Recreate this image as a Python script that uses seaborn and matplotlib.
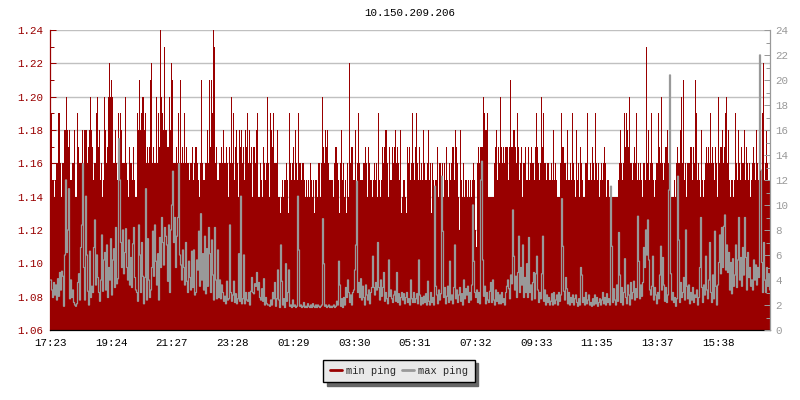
import matplotlib
matplotlib.use('Agg')
import matplotlib.pyplot as plt
from matplotlib.lines import Line2D
from matplotlib.ticker import MultipleLocator
import numpy as np
import pandas as pd
import seaborn as sns

RED = '#990000'
GREY = '#999999'

title = '10.150.209.206'
time_labels = ['17:23', '19:24', '21:27', '23:28', '01:29', '03:30',
               '05:31', '07:32', '09:33', '11:35', '13:37', '15:38']
time_samples = [0, 61, 121, 182, 243, 304, 364, 425, 486, 546, 607, 668]

min_ping_cs = [
    19,19,15,15,14,15,16,16,19,19,16,14,16,16,18,18,20,18,17,18,15,15,16,16,18,14,14,19,17,16,
    16,16,18,15,18,18,18,16,17,18,20,18,17,15,16,16,19,20,17,18,15,16,14,15,20,18,16,17,20,22,
    20,21,20,16,16,18,16,15,19,17,19,18,16,16,16,20,16,15,14,17,16,16,15,17,15,14,14,19,18,21,
    18,19,20,20,18,19,16,17,16,17,21,22,16,17,16,16,20,16,19,17,24,20,19,18,23,18,18,17,17,20,
    18,22,21,16,16,16,17,16,19,16,21,16,17,16,19,16,17,16,16,15,16,16,17,15,16,17,17,16,15,14,
    16,21,16,15,15,16,16,18,16,21,17,21,19,24,23,16,17,15,15,16,16,17,16,18,16,16,17,16,14,17,
    16,20,16,19,15,17,18,16,14,18,17,18,16,17,15,18,17,19,16,18,16,17,14,17,17,16,18,19,14,14,
    16,15,14,17,16,15,16,20,16,14,19,18,17,19,16,16,16,18,14,14,13,14,15,14,15,15,16,15,13,19,
    16,15,16,17,15,18,16,15,19,16,16,15,16,16,15,14,15,14,15,14,16,15,14,15,13,15,15,14,16,16,
    14,16,20,17,16,18,17,18,16,15,15,15,15,14,16,17,17,16,15,13,16,18,15,16,14,15,13,16,14,22,
    16,17,17,15,15,18,14,16,19,16,15,15,15,16,16,17,16,14,17,16,15,15,14,15,16,15,16,14,19,15,
    14,15,17,16,17,18,18,16,14,17,15,15,17,16,17,18,16,17,16,15,18,13,14,15,15,14,13,17,16,17,
    15,16,19,16,15,17,19,16,15,17,15,16,15,18,16,15,15,16,18,15,16,13,16,15,14,15,15,17,14,16,
    16,15,16,14,16,15,17,15,14,16,15,16,17,17,15,18,17,16,14,12,18,15,14,16,14,15,15,14,15,14,
    15,14,15,16,15,12,11,16,17,16,17,17,17,20,19,18,18,19,14,14,14,14,14,14,16,17,18,15,17,16,
    20,17,16,17,16,17,17,17,15,17,21,17,17,18,18,17,16,19,17,15,16,17,14,16,16,17,15,15,17,15,
    16,17,16,16,15,17,19,17,16,15,16,20,17,19,16,16,15,16,16,15,15,16,15,18,15,16,15,14,14,14,
    16,19,17,17,16,16,15,18,15,15,16,15,19,16,15,14,18,15,16,14,17,16,15,14,14,16,16,19,15,15,
    16,15,17,16,15,19,16,15,16,14,15,16,15,16,17,16,14,15,15,14,14,14,14,14,14,14,14,14,15,16,
    18,16,15,16,19,17,19,18,17,20,16,16,15,16,17,16,19,15,16,15,16,15,14,16,16,15,23,16,18,15,
    16,19,16,15,14,15,16,16,19,17,16,20,16,15,16,17,17,18,16,15,14,14,14,14,15,14,16,17,16,16,
    18,20,16,21,15,16,14,16,16,16,17,17,15,17,16,21,19,15,16,15,14,18,15,14,15,16,17,16,17,16,
    19,16,17,16,15,17,16,14,20,16,17,17,18,16,17,19,20,16,18,15,14,15,15,14,15,19,16,15,18,16,
    15,17,16,16,18,15,17,16,15,16,14,15,16,17,16,15,18,16,15,15,17,15,19,22,15,16,18,16,15,15,
]

max_ping = [
    4.0,3.2,2.6,3.8,2.8,3.6,2.4,4.1,2.7,4.6,3.2,4.7,4.3,1.9,6.0,12.0,6.2,8.0,11.3,2.5,4.0,2.6,3.2,2.2,2.0,1.9,2.1,3.8,4.5,2.4,
    6.6,8.4,13.3,5.0,2.4,10.7,6.0,3.1,2.0,6.3,2.6,3.5,3.0,6.6,8.8,3.6,6.0,4.2,3.0,2.3,4.0,7.6,3.1,5.6,6.2,3.2,6.8,2.6,5.0,4.0,
    7.3,2.8,5.6,6.5,3.4,8.2,3.7,4.1,15.3,12.0,7.0,5.0,8.0,4.5,6.2,8.1,5.0,4.0,7.2,3.6,5.8,3.4,6.9,8.2,4.2,3.2,3.0,2.3,8.4,6.0,
    3.0,7.0,4.3,2.1,4.2,11.3,2.4,7.3,4.0,2.6,3.2,5.0,7.9,4.3,8.4,5.5,3.6,6.1,2.4,7.4,5.0,9.0,7.0,5.2,8.2,7.5,6.8,3.9,8.4,3.0,
    8.0,10.0,12.7,7.0,9.0,5.0,7.5,9.0,13.3,6.0,5.2,4.0,6.4,5.0,3.6,7.0,3.9,3.0,5.5,4.2,3.2,6.3,3.4,6.4,2.8,3.0,5.6,4.8,7.9,3.5,
    9.3,4.0,6.1,3.2,7.5,2.9,6.5,3.5,8.2,6.1,3.0,7.2,4.4,2.4,8.2,4.0,2.5,6.4,2.6,4.0,2.5,3.6,3.0,2.3,2.7,2.1,3.9,2.4,2.5,8.4,
    3.0,2.3,2.8,3.9,2.2,2.9,2.1,2.5,6.1,2.3,10.7,2.1,2.5,6.0,2.1,3.0,2.4,2.3,3.0,2.0,3.1,4.2,3.0,2.9,3.7,3.5,4.6,3.2,3.8,2.6,
    2.4,3.3,2.3,4.1,2.0,2.6,2.1,2.0,2.0,1.9,2.4,2.0,3.0,2.5,3.8,1.9,2.5,4.8,2.4,1.8,6.8,3.9,2.0,2.5,1.8,5.3,2.3,3.0,4.8,1.9,
    2.0,1.8,2.4,1.9,2.0,1.8,1.9,10.7,6.4,1.9,2.0,1.8,1.9,2.2,1.8,1.9,1.8,2.1,1.9,1.8,2.0,1.8,2.1,1.9,1.8,2.0,1.8,2.0,1.9,1.8,
    1.9,2.0,8.9,5.3,1.9,2.0,1.8,1.9,2.0,1.8,1.9,1.8,1.9,2.0,1.8,1.9,2.3,2.0,5.5,3.6,1.9,2.5,1.8,2.6,2.0,3.4,2.6,4.0,3.0,2.2,
    2.8,2.0,3.0,3.2,4.8,6.8,11.9,3.0,3.8,2.6,4.1,2.4,3.5,2.6,2.0,3.6,2.8,2.4,3.2,2.1,3.0,3.4,5.9,3.4,2.8,3.8,3.2,7.0,3.4,2.4,
    4.0,2.7,3.4,4.6,2.3,3.0,2.5,2.1,5.6,2.7,3.2,2.5,2.2,2.8,3.1,2.3,4.6,2.2,2.9,2.0,2.6,3.0,2.4,2.9,2.1,2.6,3.0,2.2,2.5,2.0,
    4.0,2.5,2.2,3.0,2.2,2.5,2.9,2.1,5.6,2.8,2.0,2.6,2.1,2.7,2.2,2.9,2.0,3.9,2.3,2.0,3.0,2.2,2.6,2.0,11.5,3.5,2.8,2.1,3.2,2.4,
    2.9,12.3,7.9,2.6,3.4,2.1,2.7,3.5,2.2,5.5,2.4,2.8,2.1,3.4,6.8,2.5,3.2,2.2,2.8,3.4,2.3,2.9,2.0,4.0,2.5,3.3,2.8,3.5,2.2,3.0,
    2.4,3.6,10.0,5.5,3.0,2.6,3.2,2.2,3.0,2.1,12.0,13.5,5.6,2.7,3.5,2.1,3.0,2.4,2.2,3.1,3.8,2.2,4.0,2.4,2.0,3.2,2.3,3.0,2.1,2.8,
    2.1,3.0,2.2,2.5,2.0,3.0,3.5,4.0,3.3,2.5,4.4,3.7,9.6,5.9,3.2,4.3,2.6,4.6,7.5,3.0,5.0,3.6,6.8,2.6,4.2,3.0,5.3,2.6,7.4,3.0,
    3.6,2.4,3.8,4.6,2.5,4.5,5.9,3.2,2.2,3.0,2.5,4.5,7.5,2.3,3.2,2.0,2.8,2.2,2.6,2.0,2.3,2.9,2.0,3.0,2.1,2.4,2.8,2.0,3.0,2.3,
    2.8,10.5,6.7,3.1,2.4,4.2,3.3,2.1,3.0,2.0,2.6,2.2,2.8,2.0,2.5,2.8,2.2,1.9,2.5,2.0,5.0,4.4,2.2,2.6,2.0,3.0,2.1,2.4,2.8,2.0,
    2.2,1.9,2.5,2.0,2.8,2.1,2.6,1.9,2.2,2.5,2.0,2.4,3.0,2.1,2.6,2.0,2.9,2.2,2.5,2.0,11.5,6.7,2.2,3.3,2.4,2.0,3.6,2.3,7.8,4.4,
    2.2,3.4,2.0,3.0,5.7,2.6,2.1,3.6,2.8,2.0,3.8,2.5,3.0,3.9,2.4,3.3,2.6,9.1,5.5,2.5,3.6,2.7,3.8,6.6,5.0,8.0,6.0,8.8,5.6,3.2,
    2.8,3.5,5.9,2.4,3.4,2.8,2.1,3.0,2.5,4.4,6.7,3.2,5.8,3.6,2.3,3.4,2.2,2.8,11.2,20.4,4.5,2.4,3.0,2.2,2.6,1.9,2.5,12.3,7.2,2.2,
    3.8,2.6,3.0,4.2,2.4,8.0,3.5,2.5,3.6,2.1,3.0,2.4,3.4,2.2,2.8,2.6,3.2,2.0,2.6,5.0,9.0,3.4,2.2,3.6,2.8,5.9,3.2,2.5,4.0,7.0,
    3.0,2.2,4.4,2.5,7.9,3.5,2.0,3.6,5.4,7.6,4.5,8.2,5.0,8.3,9.2,4.8,6.8,4.6,6.2,3.2,5.4,2.9,5.7,3.5,4.4,6.8,3.4,5.6,9.0,4.0,
    5.8,3.5,6.6,4.4,9.0,5.8,3.2,6.2,4.2,5.0,3.5,4.0,3.2,5.6,4.0,5.2,3.6,5.0,4.2,22.0,12.8,5.4,3.0,7.0,4.0,3.0,5.0,3.5,4.5,3.2,
]

sns.set_style('white')
plt.rcParams['font.family'] = ['Liberation Mono', 'DejaVu Sans Mono']
plt.rcParams['font.size'] = 7.8

df = pd.DataFrame({'sample': np.arange(len(min_ping_cs)),
                   'min_ping': 1 + np.array(min_ping_cs) / 100,
                   'max_ping': max_ping})

fig = plt.figure(figsize=(8, 4), dpi=100)
ax = fig.add_axes([50 / 800, 70 / 400, 720 / 800, 300 / 400])

sns.barplot(data=df, x='sample', y='min_ping', native_scale=True, width=1,
            color=RED, saturation=1, linewidth=0, ax=ax)
for bar in ax.patches:
    bar.set_antialiased(False)

ax.set_xlim(-0.5, 719.5)
ax.set_ylim(1.06, 1.24)
ax.set_xlabel('')
ax.set_ylabel('')
ax.set_xticks(time_samples)
ax.set_xticklabels(time_labels)
ax.yaxis.set_major_locator(MultipleLocator(0.02))
ax.yaxis.set_major_formatter('{x:.2f}')
ax.yaxis.set_minor_locator(MultipleLocator(0.01))
ax.set_axisbelow(True)
ax.grid(axis='y', which='major', color='#c0c0c0', lw=1.0)
ax.tick_params(axis='x', direction='in', length=3.6, width=0.72, color='black',
               labelcolor='black', pad=6, bottom=True)
ax.tick_params(axis='y', which='major', direction='in', length=4, width=0.72,
               color=RED, labelcolor=RED, pad=5, left=True)
ax.tick_params(axis='y', which='minor', direction='in', length=2.6, width=0.72,
               color=RED, left=True)

ax2 = ax.twinx()
sns.lineplot(data=df, x='sample', y='max_ping', color=GREY, lw=0.9,
             drawstyle='steps-post', antialiased=True, errorbar=None, ax=ax2)
ax2.set_ylim(0, 24)
ax2.set_ylabel('')
ax2.yaxis.set_major_locator(MultipleLocator(2))
ax2.yaxis.set_minor_locator(MultipleLocator(1))
ax2.tick_params(axis='y', which='major', direction='in', length=4, width=0.72,
                color=GREY, labelcolor=GREY, pad=4, right=True)
ax2.tick_params(axis='y', which='minor', direction='in', length=2.6, width=0.72,
                color=GREY, right=True)

for name, spine in ax.spines.items():
    spine.set_visible(name in ('left', 'bottom'))
    spine.set_linewidth(0.9)
ax.spines['left'].set_color(RED)
ax.spines['bottom'].set_color('black')
for name, spine in ax2.spines.items():
    spine.set_visible(name == 'right')
    spine.set_linewidth(0.9)
ax2.spines['right'].set_color(GREY)

fig.text(410 / 800, 1 - 13 / 400, title, ha='center', va='center', color='black')

handles = [Line2D([], [], color=RED, lw=2), Line2D([], [], color=GREY, lw=2)]
ax2.legend(handles, ['min ping', 'max ping'], loc='center',
           bbox_to_anchor=(399 / 800, 1 - 371 / 400), bbox_transform=fig.transFigure,
           ncol=2, fancybox=False, framealpha=1, facecolor='#e9e9e9', edgecolor='black',
           shadow={'color': '#666666', 'alpha': 1, 'ox': 2.6, 'oy': -2.6},
           handlelength=1.2, handletextpad=0.4, columnspacing=0.5, borderpad=0.6,
           fontsize=7.5)

fig.savefig('out.png', dpi=100)
